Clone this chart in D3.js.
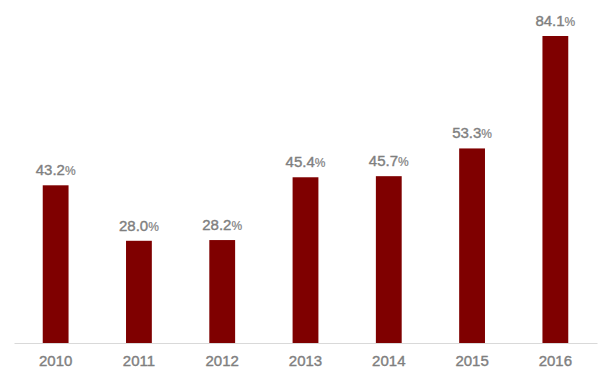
<!DOCTYPE html>
<html><head><meta charset="utf-8">
<script src="https://cdn.jsdelivr.net/npm/d3@7"></script>
<style>body{margin:0;background:#fff}svg{display:block}</style>
</head><body>
<svg id="c" width="611" height="378"></svg>
<script>
const years = ["2010","2011","2012","2013","2014","2015","2016"];
const values = [43.2, 28.0, 28.2, 45.4, 45.7, 53.3, 84.1];

const svg = d3.select("#c");
const x = d3.scaleBand().domain(years).range([14, 597]).paddingInner(0.69).paddingOuter(0.345);
const y = d3.scaleLinear().domain([0, 84.1]).range([343, 36]);

svg.selectAll("rect.bar").data(values).enter().append("rect")
  .attr("x", (d,i) => x(years[i]))
  .attr("width", x.bandwidth())
  .attr("y", d => y(d))
  .attr("height", d => y(0) - y(d))
  .attr("fill", "#7f0000");

const ax = svg.append("g").attr("transform", `translate(0,${y(0)})`)
  .call(d3.axisBottom(x).tickSize(0).tickPadding(12));
ax.select(".domain").attr("stroke", "#d9d9d9").attr("stroke-width", 1);
ax.selectAll("text").attr("font-family", "Liberation Sans, Arial, sans-serif")
  .attr("font-size", 15).attr("fill", "#7f7f7f")
  .attr("stroke", "#7f7f7f").attr("stroke-width", 0.4);

const lbl = svg.selectAll("text.lbl").data(values).enter().append("text")
  .attr("class","lbl")
  .attr("x", (d,i) => x(years[i]) + x.bandwidth()/2)
  .attr("y", d => y(d) - 10)
  .attr("text-anchor", "middle")
  .attr("font-family", "Liberation Sans, Arial, sans-serif")
  .attr("font-size", 15).attr("fill", "#7f7f7f")
  .attr("stroke", "#7f7f7f").attr("stroke-width", 0.4);
lbl.append("tspan").text(d => d.toFixed(1));
lbl.append("tspan").attr("font-size", 12).attr("font-family", "Liberation Sans Narrow, Liberation Sans, sans-serif")
  .attr("stroke-width", 0.2).text("%");
</script>
</body></html>
